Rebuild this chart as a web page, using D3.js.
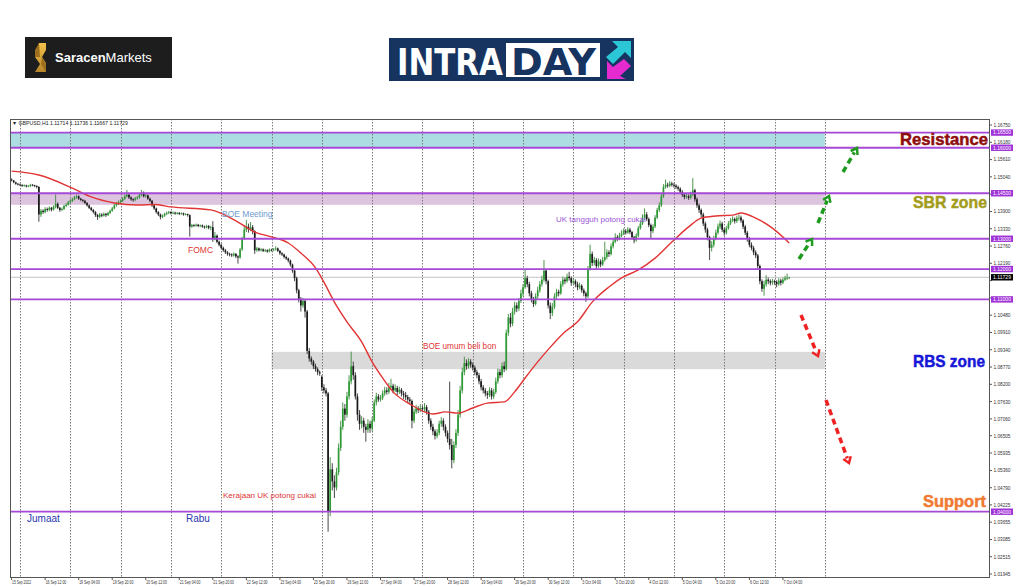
<!DOCTYPE html>
<html><head><meta charset="utf-8">
<script src="https://cdn.jsdelivr.net/npm/d3@7"></script>
<style>body{margin:0;background:#fff;}svg{display:block;}</style>
</head><body>
<svg id="c" width="1024" height="587"></svg>
<script>
// ---------------- DATA ----------------
const firstBar = -4; // bar index of first candle (16 Sep 00:00 = 0, H1 bars)
const opens = [
1.1495,1.1492,1.1486,1.1481,1.1479,1.1477,1.1475,1.1476,1.1473,1.1474,1.1478,1.1476,1.1474,
1.1471,1.1380,1.1392,1.1388,1.1398,1.1395,1.1402,1.1396,1.1405,1.1415,1.1402,1.1395,
1.1398,1.1408,1.1412,1.1420,1.1425,1.1430,1.1436,1.1440,1.1432,1.1428,1.1425,1.1418,
1.1410,1.1402,1.1395,1.1388,1.1378,1.1372,1.1380,1.1376,1.1382,1.1378,1.1385,1.1392,
1.1400,1.1410,1.1415,1.1420,1.1425,1.1432,1.1440,1.1445,1.1436,1.1430,1.1428,1.1433,
1.1436,1.1445,1.1452,1.1440,1.1443,1.1432,1.1425,1.1410,1.1400,1.1388,1.1380,1.1372,
1.1376,1.1382,1.1385,1.1388,1.1384,1.1386,1.1383,1.1385,1.1382,1.1384,1.1380,1.1381,
1.1378,1.1340,1.1345,1.1343,1.1346,1.1342,1.1344,1.1340,1.1338,1.1342,1.1336,1.1338,
1.1300,1.1310,1.1290,1.1280,1.1270,1.1262,1.1255,1.1250,1.1248,1.1245,1.1250,1.1242,
1.1238,1.1265,1.1300,1.1330,1.1340,1.1332,1.1338,1.1325,1.1262,1.1268,1.1262,1.1265,
1.1260,1.1262,1.1258,1.1264,1.1262,1.1265,1.1268,1.1260,1.1252,1.1248,1.1240,1.1235,
1.1228,1.1215,1.1195,1.1170,1.1130,1.1100,1.1080,1.1095,1.1060,1.0930,1.0905,1.0895,
1.0880,1.0870,1.0860,1.0845,1.0810,1.0800,1.0790,1.0400,1.0540,1.0500,1.0480,1.0530,
1.0610,1.0680,1.0740,1.0720,1.0780,1.0830,1.0880,1.0850,1.0780,1.0720,1.0690,1.0700,
1.0680,1.0670,1.0690,1.0675,1.0700,1.0760,1.0780,1.0770,1.0775,1.0790,1.0800,1.0795,
1.0810,1.0815,1.0800,1.0808,1.0795,1.0802,1.0790,1.0785,1.0778,1.0770,1.0765,1.0700,
1.0730,1.0740,1.0735,1.0742,1.0738,1.0745,1.0730,1.0700,1.0680,1.0665,1.0650,1.0660,
1.0690,1.0700,1.0680,1.0660,1.0640,1.0620,1.0570,1.0620,1.0660,1.0720,1.0800,1.0860,
1.0890,1.0880,1.0895,1.0885,1.0875,1.0860,1.0850,1.0830,1.0810,1.0800,1.0790,1.0785,
1.0800,1.0780,1.0795,1.0830,1.0860,1.0850,1.0880,1.0870,1.0990,1.1040,1.1020,1.1060,
1.1080,1.1070,1.1095,1.1120,1.1140,1.1170,1.1150,1.1120,1.1100,1.1085,1.1110,1.1130,
1.1150,1.1165,1.1195,1.1160,1.1080,1.1055,1.1075,1.1110,1.1125,1.1120,1.1150,1.1165,
1.1160,1.1175,1.1170,1.1155,1.1160,1.1150,1.1140,1.1145,1.1130,1.1120,1.1110,1.1200,
1.1250,1.1220,1.1230,1.1210,1.1225,1.1215,1.1230,1.1240,1.1255,1.1250,1.1275,1.1290,
1.1305,1.1300,1.1310,1.1318,1.1325,1.1320,1.1330,1.1322,1.1305,1.1295,1.1310,1.1335,
1.1350,1.1370,1.1380,1.1365,1.1345,1.1325,1.1340,1.1370,1.1395,1.1410,1.1440,1.1470,
1.1478,1.1475,1.1482,1.1478,1.1475,1.1470,1.1465,1.1455,1.1445,1.1438,1.1440,1.1435,
1.1445,1.1460,1.1430,1.1410,1.1395,1.1380,1.1350,1.1330,1.1305,1.1270,1.1280,1.1300,
1.1320,1.1340,1.1350,1.1330,1.1320,1.1335,1.1350,1.1360,1.1365,1.1358,1.1368,1.1370,
1.1360,1.1340,1.1320,1.1300,1.1280,1.1270,1.1255,1.1245,1.1210,1.1160,1.1135,1.1150,
1.1165,1.1160,1.1155,1.1160,1.1158,1.1150,1.1162,1.1155,1.1165,1.1170,1.1171];
const highs = [
1.1499,1.1494,1.1488,1.1484,1.1482,1.1480,1.1479,1.1478,1.1477,1.1481,1.1480,1.1478,1.1476,
1.1473,1.1398,1.1397,1.1404,1.1403,1.1407,1.1405,1.1410,1.1446,1.1420,1.1405,1.1403,
1.1412,1.1417,1.1425,1.1430,1.1435,1.1441,1.1445,1.1443,1.1435,1.1431,1.1428,1.1421,
1.1413,1.1405,1.1398,1.1391,1.1382,1.1385,1.1384,1.1387,1.1385,1.1389,1.1396,1.1405,
1.1414,1.1420,1.1426,1.1430,1.1437,1.1446,1.1461,1.1449,1.1440,1.1434,1.1438,1.1441,
1.1450,1.1461,1.1456,1.1449,1.1446,1.1436,1.1428,1.1414,1.1403,1.1391,1.1383,1.1380,
1.1386,1.1390,1.1392,1.1391,1.1390,1.1389,1.1388,1.1388,1.1387,1.1386,1.1384,1.1383,
1.1380,1.1349,1.1348,1.1350,1.1349,1.1347,1.1347,1.1343,1.1346,1.1345,1.1343,1.1358,
1.1322,1.1314,1.1294,1.1284,1.1274,1.1266,1.1259,1.1254,1.1252,1.1255,1.1253,1.1246,
1.1270,1.1306,1.1345,1.1362,1.1350,1.1355,1.1345,1.1328,1.1273,1.1271,1.1269,1.1268,
1.1266,1.1265,1.1268,1.1267,1.1269,1.1275,1.1271,1.1263,1.1256,1.1251,1.1244,1.1238,
1.1231,1.1218,1.1200,1.1175,1.1135,1.1108,1.1105,1.1100,1.1065,1.0940,1.0912,1.0900,
1.0888,1.0876,1.0866,1.0850,1.0820,1.0808,1.0795,1.0580,1.0560,1.0520,1.0545,1.0625,
1.0700,1.0760,1.0755,1.0795,1.0850,1.0928,1.0895,1.0860,1.0790,1.0735,1.0715,1.0710,
1.0690,1.0705,1.0700,1.0712,1.0770,1.0792,1.0788,1.0785,1.0800,1.0812,1.0810,1.0825,
1.0838,1.0822,1.0820,1.0815,1.0812,1.0808,1.0798,1.0795,1.0785,1.0778,1.0770,1.0740,
1.0752,1.0748,1.0755,1.0750,1.0758,1.0752,1.0735,1.0708,1.0690,1.0672,1.0672,1.0700,
1.0712,1.0708,1.0688,1.0668,1.0829,1.0640,1.0632,1.0672,1.0735,1.0815,1.0875,1.0911,
1.0902,1.0906,1.0903,1.0892,1.0882,1.0868,1.0858,1.0838,1.0818,1.0808,1.0798,1.0810,
1.0808,1.0805,1.0842,1.0872,1.0870,1.0892,1.0895,1.1000,1.1052,1.1055,1.1072,1.1092,
1.1090,1.1105,1.1132,1.1150,1.1197,1.1178,1.1158,1.1128,1.1108,1.1120,1.1142,1.1160,
1.1178,1.1230,1.1200,1.1165,1.1090,1.1088,1.1120,1.1135,1.1132,1.1160,1.1175,1.1172,
1.1185,1.1191,1.1176,1.1170,1.1166,1.1158,1.1155,1.1150,1.1136,1.1126,1.1210,1.1280,
1.1258,1.1240,1.1236,1.1235,1.1232,1.1240,1.1290,1.1265,1.1262,1.1284,1.1300,1.1318,
1.1312,1.1320,1.1328,1.1334,1.1332,1.1338,1.1336,1.1326,1.1310,1.1318,1.1342,1.1360,
1.1380,1.1400,1.1388,1.1370,1.1350,1.1348,1.1378,1.1402,1.1420,1.1450,1.1480,1.1495,
1.1485,1.1490,1.1488,1.1484,1.1480,1.1475,1.1470,1.1460,1.1450,1.1448,1.1446,1.1455,
1.1500,1.1465,1.1436,1.1416,1.1400,1.1386,1.1356,1.1336,1.1310,1.1292,1.1310,1.1330,
1.1350,1.1360,1.1356,1.1336,1.1342,1.1358,1.1368,1.1374,1.1370,1.1376,1.1380,1.1376,
1.1364,1.1346,1.1326,1.1306,1.1288,1.1276,1.1262,1.1250,1.1215,1.1166,1.1162,1.1180,
1.1172,1.1166,1.1168,1.1165,1.1163,1.1170,1.1168,1.1172,1.1178,1.1185,1.1174];
const lows = [
1.1489,1.1483,1.1478,1.1476,1.1474,1.1471,1.1472,1.1469,1.1470,1.1471,1.1473,1.1470,1.1466,
1.1356,1.1372,1.1382,1.1384,1.1389,1.1391,1.1390,1.1393,1.1400,1.1398,1.1389,1.1391,
1.1395,1.1404,1.1409,1.1416,1.1421,1.1427,1.1432,1.1428,1.1424,1.1420,1.1414,1.1406,
1.1398,1.1391,1.1383,1.1372,1.1362,1.1368,1.1371,1.1373,1.1372,1.1375,1.1381,1.1389,
1.1397,1.1406,1.1411,1.1416,1.1421,1.1428,1.1436,1.1431,1.1425,1.1422,1.1424,1.1429,
1.1432,1.1440,1.1436,1.1435,1.1428,1.1420,1.1405,1.1395,1.1383,1.1375,1.1364,1.1368,
1.1372,1.1378,1.1381,1.1380,1.1381,1.1379,1.1380,1.1378,1.1379,1.1376,1.1377,1.1373,
1.1307,1.1336,1.1339,1.1340,1.1338,1.1338,1.1336,1.1333,1.1334,1.1331,1.1328,1.1290,
1.1295,1.1285,1.1275,1.1265,1.1257,1.1250,1.1244,1.1242,1.1240,1.1241,1.1236,1.1218,
1.1234,1.1260,1.1296,1.1322,1.1320,1.1325,1.1315,1.1250,1.1257,1.1258,1.1258,1.1256,
1.1256,1.1254,1.1255,1.1258,1.1259,1.1261,1.1256,1.1247,1.1243,1.1235,1.1230,1.1222,
1.1208,1.1188,1.1160,1.1120,1.1090,1.1060,1.1072,1.1040,1.0920,1.0895,1.0885,1.0870,
1.0862,1.0850,1.0848,1.0798,1.0790,1.0780,1.0334,1.0385,1.0470,1.0445,1.0470,1.0520,
1.0600,1.0670,1.0700,1.0710,1.0770,1.0820,1.0835,1.0770,1.0700,1.0670,1.0675,1.0660,
1.0631,1.0660,1.0660,1.0665,1.0695,1.0750,1.0762,1.0763,1.0768,1.0782,1.0786,1.0788,
1.0802,1.0790,1.0795,1.0785,1.0788,1.0780,1.0772,1.0768,1.0760,1.0755,1.0675,1.0692,
1.0722,1.0725,1.0728,1.0728,1.0730,1.0720,1.0690,1.0670,1.0652,1.0638,1.0642,1.0652,
1.0680,1.0668,1.0648,1.0628,1.0605,1.0543,1.0560,1.0610,1.0650,1.0710,1.0790,1.0850,
1.0868,1.0872,1.0875,1.0865,1.0850,1.0840,1.0820,1.0800,1.0790,1.0780,1.0772,1.0778,
1.0770,1.0772,1.0788,1.0822,1.0840,1.0842,1.0860,1.0865,1.0980,1.1008,1.1012,1.1050,
1.1058,1.1062,1.1088,1.1110,1.1135,1.1140,1.1110,1.1090,1.1075,1.1080,1.1102,1.1122,
1.1142,1.1158,1.1150,1.1070,1.1035,1.1045,1.1068,1.1102,1.1110,1.1115,1.1142,1.1150,
1.1155,1.1162,1.1145,1.1148,1.1140,1.1130,1.1133,1.1122,1.1110,1.1092,1.1105,1.1195,
1.1210,1.1212,1.1200,1.1204,1.1206,1.1210,1.1225,1.1232,1.1240,1.1245,1.1268,1.1285,
1.1292,1.1295,1.1305,1.1312,1.1314,1.1316,1.1315,1.1298,1.1285,1.1290,1.1305,1.1330,
1.1345,1.1362,1.1358,1.1338,1.1300,1.1318,1.1335,1.1365,1.1388,1.1405,1.1435,1.1465,
1.1468,1.1470,1.1472,1.1468,1.1464,1.1458,1.1448,1.1438,1.1430,1.1432,1.1428,1.1430,
1.1440,1.1422,1.1402,1.1385,1.1370,1.1342,1.1320,1.1295,1.1230,1.1258,1.1272,1.1295,
1.1314,1.1332,1.1322,1.1310,1.1314,1.1330,1.1345,1.1355,1.1350,1.1352,1.1360,1.1352,
1.1332,1.1312,1.1290,1.1272,1.1262,1.1246,1.1236,1.1200,1.1150,1.1125,1.1112,1.1142,
1.1150,1.1146,1.1148,1.1148,1.1140,1.1145,1.1146,1.1150,1.1160,1.1164,1.1167];
const closes = [
1.1492,1.1486,1.1481,1.1479,1.1477,1.1475,1.1476,1.1473,1.1474,1.1478,1.1476,1.1474,1.1471,
1.1380,1.1392,1.1388,1.1398,1.1395,1.1402,1.1396,1.1405,1.1415,1.1402,1.1395,1.1398,
1.1408,1.1412,1.1420,1.1425,1.1430,1.1436,1.1440,1.1432,1.1428,1.1425,1.1418,1.1410,
1.1402,1.1395,1.1388,1.1378,1.1372,1.1380,1.1376,1.1382,1.1378,1.1385,1.1392,1.1400,
1.1410,1.1415,1.1420,1.1425,1.1432,1.1440,1.1445,1.1436,1.1430,1.1428,1.1433,1.1436,
1.1445,1.1452,1.1440,1.1443,1.1432,1.1425,1.1410,1.1400,1.1388,1.1380,1.1372,1.1376,
1.1382,1.1385,1.1388,1.1384,1.1386,1.1383,1.1385,1.1382,1.1384,1.1380,1.1381,1.1378,
1.1340,1.1345,1.1343,1.1346,1.1342,1.1344,1.1340,1.1338,1.1342,1.1336,1.1338,1.1300,
1.1310,1.1290,1.1280,1.1270,1.1262,1.1255,1.1250,1.1248,1.1245,1.1250,1.1242,1.1238,
1.1265,1.1300,1.1330,1.1340,1.1332,1.1338,1.1325,1.1262,1.1268,1.1262,1.1265,1.1260,
1.1262,1.1258,1.1264,1.1262,1.1265,1.1268,1.1260,1.1252,1.1248,1.1240,1.1235,1.1228,
1.1215,1.1195,1.1170,1.1130,1.1100,1.1080,1.1095,1.1060,1.0930,1.0905,1.0895,1.0880,
1.0870,1.0860,1.0856,1.0810,1.0800,1.0790,1.0400,1.0540,1.0500,1.0480,1.0530,1.0610,
1.0680,1.0740,1.0720,1.0780,1.0830,1.0880,1.0850,1.0780,1.0720,1.0690,1.0700,1.0680,
1.0670,1.0690,1.0675,1.0700,1.0760,1.0780,1.0770,1.0775,1.0790,1.0800,1.0795,1.0810,
1.0815,1.0800,1.0808,1.0795,1.0802,1.0790,1.0785,1.0778,1.0770,1.0765,1.0700,1.0730,
1.0740,1.0735,1.0742,1.0738,1.0745,1.0730,1.0700,1.0680,1.0665,1.0650,1.0660,1.0690,
1.0700,1.0680,1.0660,1.0640,1.0620,1.0570,1.0620,1.0660,1.0720,1.0800,1.0860,1.0890,
1.0880,1.0895,1.0885,1.0875,1.0860,1.0850,1.0830,1.0810,1.0800,1.0790,1.0785,1.0800,
1.0780,1.0795,1.0830,1.0860,1.0850,1.0880,1.0870,1.0990,1.1040,1.1020,1.1060,1.1080,
1.1070,1.1095,1.1120,1.1140,1.1170,1.1150,1.1120,1.1100,1.1085,1.1110,1.1130,1.1150,
1.1165,1.1195,1.1160,1.1080,1.1055,1.1075,1.1110,1.1125,1.1120,1.1150,1.1165,1.1160,
1.1175,1.1170,1.1155,1.1160,1.1150,1.1140,1.1145,1.1130,1.1120,1.1110,1.1200,1.1250,
1.1220,1.1230,1.1210,1.1225,1.1215,1.1230,1.1240,1.1255,1.1250,1.1275,1.1290,1.1305,
1.1300,1.1310,1.1318,1.1325,1.1320,1.1330,1.1322,1.1305,1.1295,1.1310,1.1335,1.1350,
1.1370,1.1380,1.1365,1.1345,1.1325,1.1340,1.1370,1.1395,1.1410,1.1440,1.1470,1.1478,
1.1475,1.1482,1.1478,1.1475,1.1470,1.1465,1.1455,1.1445,1.1438,1.1440,1.1435,1.1445,
1.1460,1.1430,1.1410,1.1395,1.1380,1.1350,1.1330,1.1305,1.1270,1.1280,1.1300,1.1320,
1.1340,1.1350,1.1330,1.1320,1.1335,1.1350,1.1360,1.1365,1.1358,1.1368,1.1370,1.1360,
1.1340,1.1320,1.1300,1.1280,1.1270,1.1255,1.1245,1.1210,1.1160,1.1135,1.1150,1.1165,
1.1160,1.1155,1.1160,1.1158,1.1150,1.1162,1.1155,1.1165,1.1170,1.1171,1.1173];

// Moving average (red line) read at bar indices
const maBars = [-4,9,25,34,45,56,64,72,91,104,112,120,128,134,141,145,150,156,163,168,173,178,186,197,203,209,216,223,231,236,241,247,254,260,266,273,281,287,295,303,311,319,325,332,340,344,351,359,367];
const maValues = [1.1523,1.1510,1.1467,1.1438,1.1418,1.1411,1.1413,1.1405,1.1395,1.1355,1.1322,1.1306,1.1286,1.1253,1.1204,1.1157,1.1091,1.1026,1.0960,1.0894,1.0841,1.0795,1.0755,1.0722,1.0729,1.0725,1.0742,1.0758,1.0762,1.0795,1.0841,1.0894,1.0950,1.0993,1.1026,1.1091,1.1141,1.1171,1.1197,1.1236,1.1289,1.1339,1.1368,1.1375,1.1378,1.1385,1.1368,1.1335,1.1286];

const timeLabels = ["15 Sep 2022","16 Sep 12:00","19 Sep 04:00","19 Sep 20:00","20 Sep 12:00","21 Sep 04:00","21 Sep 20:00","22 Sep 12:00","23 Sep 04:00","23 Sep 20:00","26 Sep 12:00","27 Sep 04:00","27 Sep 20:00","28 Sep 12:00","29 Sep 04:00","29 Sep 20:00","30 Sep 12:00","3 Oct 04:00","3 Oct 20:00","4 Oct 12:00","5 Oct 04:00","5 Oct 20:00","6 Oct 12:00","7 Oct 04:00"];
const priceTickLabels = ["1.16750","1.16180","1.15610","1.15040","1.14470","1.13900","1.13330","1.12760","1.12190","1.11620","1.11050","1.10480","1.09910","1.09340","1.08770","1.08200","1.07630","1.07060","1.06505","1.05935","1.05360","1.04790","1.04225","1.03655","1.03085","1.02515","1.01945"];
const levelPrices = [1.16500,1.16000,1.14500,1.13000,1.12000,1.11000,1.04000];
const lastPrice = 1.11729;
const headerText = "GBPUSD,H1  1.11714 1.11736 1.11667 1.11729";
const resistanceZone = [1.1600, 1.1650];
const sbrZone = [1.1412, 1.1450];
const rbsZone = [1.0870, 1.0927];

// ---------------- DRAW ----------------
const svg = d3.select('#c');
const P = {l:10, r:990, t:119, b:577};
const x = d3.scaleLinear().domain([-4.77, 462.8]).range([P.l, P.r]);
const y = d3.scaleLinear().domain([1.01847, 1.16948]).range([P.b, P.t]);
const AX = "'Liberation Sans', Arial, sans-serif";

svg.append('rect').attr('width',1024).attr('height',587).attr('fill','#fff');

// ---- logos ----
const lg = svg.append('g');
lg.append('rect').attr('x',25).attr('y',37).attr('width',147).attr('height',41).attr('fill','#1d1d1d');
const gold = lg.append('defs').append('linearGradient').attr('id','gold').attr('x1',0).attr('y1',0).attr('x2',0).attr('y2',1);
gold.append('stop').attr('offset','0').attr('stop-color','#f2c24a');
gold.append('stop').attr('offset','1').attr('stop-color','#b8862a');
lg.append('path').attr('d','M39,43 L46,43 L46,50 L42,57 L46,63 L46,72 L35,72 L40,64 L35,57 Z').attr('fill','url(#gold)');
lg.append('path').attr('d','M39,43 L35,50 L35,57 L40,57 Z M46,72 L46,64 L42,57 L41,64 Z').attr('fill','#9c6f1e');
lg.append('text').attr('x',55).attr('y',62).attr('font-family',AX).attr('font-size',13).attr('fill','#fff')
  .html('<tspan font-weight="bold">Saracen</tspan><tspan>Markets</tspan>');

lg.append('rect').attr('x',389).attr('y',38).attr('width',245).attr('height',43).attr('fill','#16345f');
lg.append('text').attr('x',397).attr('y',75).attr('font-family',"'Liberation Sans Narrow','DejaVu Sans Condensed',sans-serif")
  .attr('font-weight','bold').attr('font-size',38).attr('fill','#fff').attr('textLength',106).attr('lengthAdjust','spacingAndGlyphs').text('INTRA');
lg.append('rect').attr('x',506).attr('y',43).attr('width',94).attr('height',34).attr('fill','#fff');
lg.append('text').attr('x',511).attr('y',75).attr('font-family',"'Liberation Sans Narrow','DejaVu Sans Condensed',sans-serif")
  .attr('font-weight','bold').attr('font-size',38).attr('fill','#16345f').attr('textLength',85).attr('lengthAdjust','spacingAndGlyphs').text('DAY');
lg.append('path').attr('d','M612,41 L631,41 L631,58 L625,52 L613,64 L606,57 L618,47 Z').attr('fill','#2cc7d6');
lg.append('path').attr('d','M624,59 L631,66 L620,76 L626,79 L607,79 L607,61 L613,67 Z').attr('fill','#e52bd0');

// ---- chart ----
const defs = svg.append('defs');
defs.append('clipPath').attr('id','clip').append('rect').attr('x',P.l).attr('y',P.t).attr('width',P.r-P.l).attr('height',P.b-P.t);
const g = svg.append('g').attr('clip-path','url(#clip)');

// zones
g.append('rect').attr('x',x(-4.77)).attr('width',x(384)-x(-4.77)).attr('y',y(resistanceZone[1])).attr('height',y(resistanceZone[0])-y(resistanceZone[1])).attr('fill','#acdde2');
g.append('rect').attr('x',x(-4.77)).attr('width',x(384)-x(-4.77)).attr('y',y(sbrZone[1])).attr('height',y(sbrZone[0])-y(sbrZone[1])).attr('fill','#dcc3de');
g.append('rect').attr('x',x(120)).attr('width',x(384)-x(120)).attr('y',y(rbsZone[1])).attr('height',y(rbsZone[0])-y(rbsZone[1])).attr('fill','#dadada');

// day separators
const dayStarts = d3.range(0, 385, 24);
g.selectAll('line.day').data(dayStarts).join('line').attr('class','day')
  .attr('x1',d=>Math.round(x(d))+0.5).attr('x2',d=>Math.round(x(d))+0.5).attr('y1',P.t).attr('y2',P.b)
  .attr('stroke','#7a7a7a').attr('stroke-width',1).attr('stroke-dasharray','1.5,1.5');

// last price line
g.append('line').attr('x1',P.l).attr('x2',P.r).attr('y1',y(lastPrice)).attr('y2',y(lastPrice)).attr('stroke','#c4c4c4').attr('stroke-width',1);

// candles
const bars = closes.map((c,k)=>({i:firstBar+k,o:opens[k],h:highs[k],l:lows[k],c}));
const cg = g.append('g');
cg.selectAll('line.w').data(bars).join('line').attr('class','w')
  .attr('x1',d=>x(d.i)).attr('x2',d=>x(d.i))
  .attr('y1',d=>y(Math.max(d.h,d.o,d.c))).attr('y2',d=>y(Math.min(d.l,d.o,d.c)))
  .attr('stroke',d=>d.c>=d.o?'#3d8a3d':'#333').attr('stroke-width',0.9);
cg.selectAll('rect.b').data(bars).join('rect').attr('class','b')
  .attr('x',d=>x(d.i)-0.85).attr('width',1.7)
  .attr('y',d=>y(Math.max(d.o,d.c))).attr('height',d=>Math.max(0.8,Math.abs(y(d.o)-y(d.c))))
  .attr('fill',d=>d.c>=d.o?'#2e9a35':'#1a1a1a');

// MA
const ma = maBars.map((b,k)=>[b,maValues[k]]);
g.append('path').datum(ma).attr('fill','none').attr('stroke','#e23434').attr('stroke-width',1.4)
  .attr('d',d3.line().x(d=>x(d[0])).y(d=>y(d[1])).curve(d3.curveMonotoneX));

// level lines
g.selectAll('line.lv').data(levelPrices).join('line').attr('class','lv')
  .attr('x1',P.l).attr('x2',P.r).attr('y1',d=>y(d)).attr('y2',d=>y(d))
  .attr('stroke','#a649d6').attr('stroke-width',1.8);

// frame
svg.append('rect').attr('x',P.l+0.5).attr('y',P.t+0.5).attr('width',P.r-P.l-1).attr('height',P.b-P.t).attr('fill','none').attr('stroke','#555').attr('stroke-width',1);

// header
svg.append('text').attr('x',12).attr('y',124.5).attr('font-family',AX).attr('font-size',5.2).attr('fill','#222').text('\u25BC '+headerText);

// right axis (tick labels hidden where a level label covers them, as in the terminal)
const labelPrices = levelPrices.concat([lastPrice]);
const ra = svg.append('g').attr('font-family',AX).attr('font-size',5.2);
const visTicks = priceTickLabels.filter(t=>labelPrices.every(p=>Math.abs(y(p)-y(+t))>4.5));
ra.selectAll('text.pt').data(visTicks).join('text').attr('class','pt')
  .attr('x',993.5).attr('y',d=>y(+d)+1.9).attr('fill','#333').attr('textLength',17).attr('lengthAdjust','spacingAndGlyphs').text(d=>d);
ra.selectAll('line.pt').data(priceTickLabels).join('line').attr('class','pt')
  .attr('x1',P.r).attr('x2',P.r+2).attr('y1',d=>y(+d)).attr('y2',d=>y(+d)).attr('stroke','#555');
levelPrices.forEach(p=>{
  ra.append('rect').attr('x',991).attr('y',y(p)-3.2).attr('width',22).attr('height',6.4).attr('fill','#a033d8');
  ra.append('text').attr('x',993).attr('y',y(p)+1.9).attr('fill','#fff').attr('textLength',18).attr('lengthAdjust','spacingAndGlyphs').text(p.toFixed(5));
});
ra.append('rect').attr('x',991).attr('y',y(lastPrice)-3.2).attr('width',22).attr('height',6.4).attr('fill','#000');
ra.append('text').attr('x',993).attr('y',y(lastPrice)+1.9).attr('fill','#fff').attr('textLength',18).attr('lengthAdjust','spacingAndGlyphs').text(lastPrice.toFixed(5));

// bottom axis
const ba = svg.append('g').attr('font-family',AX).attr('font-size',4.8).attr('fill','#333');
ba.selectAll('text').data(timeLabels).join('text').attr('x',(d,k)=>x(firstBar+16*k)+0.5).attr('y',583.5)
  .attr('textLength',d=>d.length*1.72).attr('lengthAdjust','spacingAndGlyphs').text(d=>d);
ba.selectAll('line').data(timeLabels).join('line').attr('x1',(d,k)=>x(firstBar+16*k)).attr('x2',(d,k)=>x(firstBar+16*k))
  .attr('y1',P.b).attr('y2',P.b+3).attr('stroke','#555');

// annotations
const an = svg.append('g').attr('font-family',AX);
an.append('text').attr('x',222).attr('y',217).attr('font-size',8.5).attr('fill','#6f9bd0').text('BOE Meeting');
an.append('text').attr('x',188).attr('y',253).attr('font-size',8.5).attr('fill','#e03535').text('FOMC');
an.append('text').attr('x',556).attr('y',222).attr('font-size',8).attr('fill','#9b55d6').text('UK tangguh potong cukai');
an.append('text').attr('x',423).attr('y',349).attr('font-size',8.2).attr('fill','#e03535').text('BOE umum beli bon');
an.append('text').attr('x',223).attr('y',498).attr('font-size',8).attr('fill','#e03535').text('Kerajaan UK potong cukai');
an.append('text').attr('x',27).attr('y',522).attr('font-size',10).attr('fill','#2a38b0').text('Jumaat');
an.append('text').attr('x',186).attr('y',522).attr('font-size',10).attr('fill','#2a38b0').text('Rabu');

const big = (t,x0,x1,yb,col)=>an.append('text').attr('x',x0).attr('y',yb).attr('font-size',17).attr('font-weight','bold')
  .attr('fill',col).attr('stroke',col).attr('stroke-width',0.5)
  .attr('textLength',x1-x0).attr('lengthAdjust','spacingAndGlyphs').text(t);
big('Resistance',900,988,145,'#8e0d0d');
big('SBR zone',913,987,208,'#a39c1c');
big('RBS zone',913,985,367,'#1717d8');
big('Support',923,986,507,'#f07a33');

// arrows
function arrow(x0,y0,x1,y1,col){
  const a = an.append('g');
  const ang = Math.atan2(y1-y0,x1-x0);
  const ex = x1-Math.cos(ang)*5, ey = y1-Math.sin(ang)*5;
  a.append('line').attr('x1',x0).attr('y1',y0).attr('x2',ex).attr('y2',ey).attr('stroke',col).attr('stroke-width',3.5).attr('stroke-dasharray','6,4');
  const s=7;
  const p1=[x1-Math.cos(ang-0.6)*s, y1-Math.sin(ang-0.6)*s], p2=[x1-Math.cos(ang+0.6)*s, y1-Math.sin(ang+0.6)*s];
  a.append('path').attr('d',`M${p1[0]},${p1[1]} L${x1},${y1} L${p2[0]},${p2[1]}`).attr('fill','none').attr('stroke',col).attr('stroke-width',2.5);
}
arrow(799,259,812,239,'#1e9a1e');
arrow(818,223,829,196,'#1e9a1e');
arrow(843,172,857,148,'#1e9a1e');
arrow(801,315,818,356,'#ee2222');
arrow(826,400,849,463,'#ee2222');
</script>
</body></html>
